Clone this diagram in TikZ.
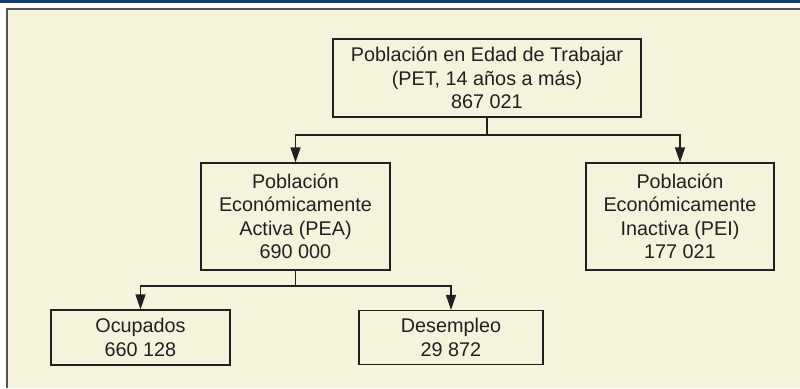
\documentclass[tikz,border=0pt]{standalone}
\usepackage{fontspec}
\setmainfont{Liberation Sans}
\usetikzlibrary{arrows.meta}
\definecolor{barblue}{RGB}{15,62,114}
\definecolor{cream}{RGB}{245,243,220}
\definecolor{framegray}{RGB}{85,85,85}
\definecolor{ink}{RGB}{35,31,32}
\tikzset{
  databox/.style={draw=ink, line width=1.2pt, text=ink, align=center,
    inner sep=0pt, font=\fontsize{19.8}{23.5}\selectfont},
  link/.style={draw=ink, line width=1.2pt},
  linkarrow/.style={link, -{Triangle[length=15pt,width=10pt]}}
}
\begin{document}
\begin{tikzpicture}[x=1pt,y=-1pt]
  \useasboundingbox (0,0) rectangle (800,388);
  % top bar and panel
  \fill[white] (0,0) rectangle (800,388);
  \fill[barblue] (0,0) rectangle (800,2.5);
  \fill[cream] (7,9) rectangle (800,388);
  \draw[framegray, line width=1.5pt] (7,388) -- (7,9) -- (800,9);
  % boxes
  \node[databox, minimum width=308, minimum height=78] (pet) at (487,78)
    {Población en Edad de Trabajar\\(PET, 14 años a más)\\867 021};
  \node[databox, minimum width=189, minimum height=107] (pea) at (295.5,216.5)
    {Población\\Económicamente\\Activa (PEA)\\690 000};
  \node[databox, minimum width=188, minimum height=107] (pei) at (680,216.5)
    {Población\\Económicamente\\Inactiva (PEI)\\177 021};
  \node[databox, minimum width=179, minimum height=55] (ocu) at (140.5,337.5)
    {Ocupados\\660 128};
  \node[databox, minimum width=184, minimum height=54] (des) at (451,337.5)
    {Desempleo\\29 872};
  % connectors
  \coordinate (petsplit) at (487,135);
  \draw[link] (pet.south) -- (petsplit);
  \draw[linkarrow] (petsplit) -| (pea.north);
  \draw[linkarrow] (petsplit) -| (pei.north);
  \coordinate (peasplit) at (295.5,286);
  \draw[link] (pea.south) -- (peasplit);
  \draw[linkarrow] (peasplit) -| (ocu.north);
  \draw[linkarrow] (peasplit) -| (des.north);
\end{tikzpicture}
\end{document}
